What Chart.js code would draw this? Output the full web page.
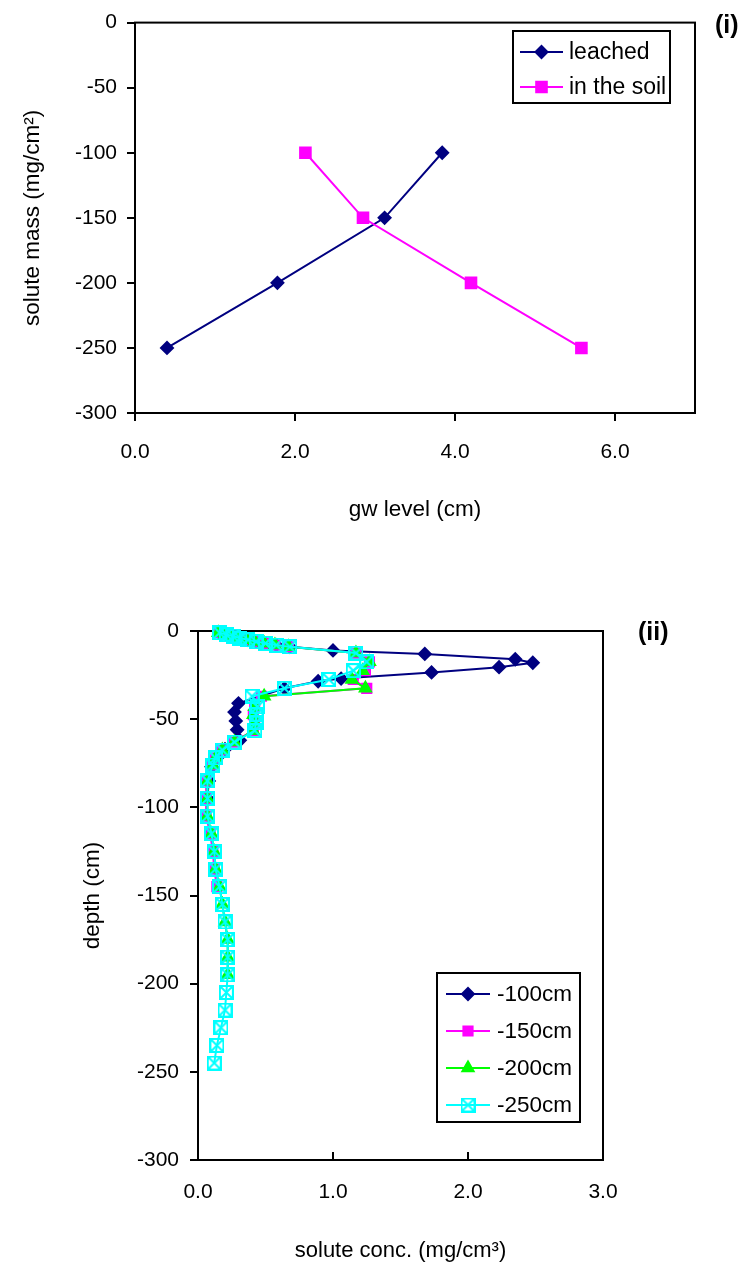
<!DOCTYPE html>
<html><head><meta charset="utf-8">
<script src="https://cdn.jsdelivr.net/npm/chart.js@4/dist/chart.umd.min.js"></script>
<style>
html,body{margin:0;padding:0;background:#fff;}
body{width:743px;height:1266px;position:relative;overflow:hidden;font-family:'Liberation Sans',Arial,sans-serif;}
.wrap{position:absolute;left:0;width:743px;}
#w1{top:0;height:545px;}
#w2{top:560px;height:706px;}
.tag{position:absolute;font-weight:bold;font-size:25px;color:#000;line-height:1;}
</style></head><body>
<div class="wrap" id="w1"><canvas id="c1" width="743" height="545"></canvas></div>
<div class="wrap" id="w2"><canvas id="c2" width="743" height="706"></canvas></div>
<div class="tag" style="left:715px;top:12px;">(i)</div>
<div class="tag" style="left:638px;top:619px;">(ii)</div>
<script>
// ---------- chart (i) data ----------
const massLeached = [-250, -200, -150, -100];
const gwLeached   = [0.40, 1.78, 3.12, 3.84];
const massSoil    = [-100, -150, -200, -250];
const gwSoil      = [2.13, 2.85, 4.20, 5.58];
const seriesNames1 = ['leached', 'in the soil'];

// ---------- chart (ii) data ----------
const seriesNames2 = ['-100cm', '-150cm', '-200cm', '-250cm'];
const depth100 = [-1,-2,-3,-4,-5,-6,-7,-8,-9,-11,-13,-16,-18,-20.5,-23.5,-27,-28.5,-32.5,-41,-46,-51,-56,-62,-67,-72,-77,-85,-95];
const conc100  = [0.16,0.21,0.26,0.31,0.37,0.43,0.50,0.58,0.68,1.00,1.68,2.35,2.48,2.23,1.73,1.06,0.89,0.64,0.30,0.27,0.28,0.29,0.31,0.20,0.14,0.10,0.08,0.07];

const depth150 = [-1,-2,-3,-4,-5,-6,-7,-8,-9,-12.5,-17.5,-22.5,-27.5,-32.5,-37,-43,-47.5,-52,-56.5,-63,-67.5,-72,-76,-85,-95,-105,-115,-125,-135,-145];
const conc150  = [0.15,0.20,0.25,0.30,0.36,0.42,0.49,0.57,0.67,1.17,1.27,1.24,1.15,1.25,0.47,0.42,0.41,0.42,0.41,0.26,0.17,0.12,0.10,0.06,0.06,0.06,0.09,0.11,0.12,0.14];

const depth200 = [-1,-2,-3,-4,-5,-6,-7,-8,-9,-12.5,-17.5,-22.5,-27.5,-32.5,-37,-43,-47.5,-52,-56.5,-63,-67.5,-72,-76,-85,-95,-105,-115,-125,-135,-145,-155,-165,-175,-185,-195];
const conc200  = [0.15,0.20,0.25,0.30,0.36,0.42,0.49,0.57,0.67,1.17,1.27,1.22,1.14,1.24,0.49,0.42,0.41,0.42,0.41,0.27,0.18,0.13,0.11,0.07,0.07,0.07,0.10,0.12,0.13,0.16,0.18,0.20,0.22,0.22,0.22];

const depth250 = [-1,-2,-3,-4,-5,-6,-7,-8,-9,-12.5,-17.5,-22.5,-27.5,-32.5,-37,-43,-47.5,-52,-56.5,-63,-67.5,-72,-76,-85,-95,-105,-115,-125,-135,-145,-155,-165,-175,-185,-195,-205,-215,-225,-235,-245];
const conc250  = [0.16,0.21,0.26,0.31,0.37,0.43,0.50,0.58,0.68,1.17,1.25,1.15,0.97,0.64,0.40,0.44,0.43,0.43,0.42,0.27,0.18,0.13,0.11,0.07,0.07,0.07,0.10,0.12,0.13,0.16,0.18,0.20,0.22,0.22,0.22,0.21,0.20,0.17,0.14,0.12];

// ---------- helpers ----------
const FONT = "'Liberation Sans', Arial, sans-serif";
const pts = (xs, ys) => xs.map((x, i) => ({x: x, y: ys[i]}));

function boxX(color, size) {
  const c = document.createElement('canvas');
  c.width = size; c.height = size;
  const g = c.getContext('2d');
  g.strokeStyle = color; g.lineWidth = 2;
  g.strokeRect(1, 1, size - 2, size - 2);
  g.beginPath();
  g.moveTo(2, 2); g.lineTo(size - 2, size - 2);
  g.moveTo(size - 2, 2); g.lineTo(2, size - 2);
  g.stroke();
  return c;
}
const cyanMark = boxX('#00FFFF', 15);

const framePlugin = {
  id: 'frame',
  beforeDatasetsDraw(chart) {
    const a = chart.chartArea, ctx = chart.ctx;
    ctx.save();
    ctx.strokeStyle = '#000'; ctx.lineWidth = 2;
    ctx.strokeRect(a.left, a.top, a.right - a.left, a.bottom - a.top);
    const o = chart.options.plugins.frame || {};
    if (o.innerX) {
      const s = chart.scales.x;
      ctx.beginPath();
      s.ticks.forEach(t => {
        const px = s.getPixelForValue(t.value);
        ctx.moveTo(px, a.bottom); ctx.lineTo(px, a.bottom - 8);
      });
      ctx.stroke();
    }
    ctx.restore();
  }
};

const legendPlugin = {
  id: 'boxLegend',
  afterDraw(chart) {
    const o = chart.options.plugins.boxLegend;
    if (!o) return;
    const ctx = chart.ctx;
    ctx.save();
    ctx.fillStyle = '#fff';
    ctx.fillRect(o.x, o.y, o.w, o.h);
    ctx.strokeStyle = '#000'; ctx.lineWidth = 2;
    ctx.strokeRect(o.x, o.y, o.w, o.h);
    ctx.font = o.fontSize + 'px ' + FONT;
    ctx.textBaseline = 'middle'; ctx.textAlign = 'left';
    chart.data.datasets.forEach((d, i) => {
      const y = o.y0 + i * o.dy;
      ctx.strokeStyle = d.borderColor; ctx.lineWidth = d.borderWidth;
      ctx.beginPath(); ctx.moveTo(o.lx0, y); ctx.lineTo(o.lx1, y); ctx.stroke();
      ctx.fillStyle = d.pointBackgroundColor; ctx.strokeStyle = d.pointBorderColor;
      Chart.helpers.drawPoint(ctx, {pointStyle: d.pointStyle, radius: d.pointRadius, rotation: 0, borderWidth: 1}, (o.lx0 + o.lx1) / 2, y);
      ctx.fillStyle = '#000';
      ctx.fillText(d.label, o.tx, y + 1);
    });
    ctx.restore();
  }
};

function axisCommon(size) {
  return {font: {family: FONT, size: size}, color: '#000'};
}

// ---------- chart (i) ----------
const H1 = 545;
new Chart(document.getElementById('c1'), {
  type: 'scatter',
  data: {
    datasets: [
      {label: seriesNames1[0], data: pts(gwLeached, massLeached), showLine: true, borderColor: '#000080', borderWidth: 2,
       pointStyle: 'rectRot', pointRadius: 6, pointBackgroundColor: '#000080', pointBorderColor: '#000080', order: 1, clip: false},
      {label: seriesNames1[1], data: pts(gwSoil, massSoil), showLine: true, borderColor: '#FF00FF', borderWidth: 2,
       pointStyle: 'rect', pointRadius: 7.5, pointBackgroundColor: '#FF00FF', pointBorderColor: '#FF00FF', order: 0, clip: false}
    ]
  },
  options: {
    responsive: false, animation: false, devicePixelRatio: 1,
    layout: {padding: {top: 17, right: 48, left: 0, bottom: 0}},
    plugins: {
      legend: {display: false}, tooltip: {enabled: false},
      boxLegend: {x: 513, y: 31, w: 157, h: 72, y0: 52, dy: 35, lx0: 520, lx1: 563, tx: 569, fontSize: 23}
    },
    scales: {
      x: {
        type: 'linear', min: 0, max: 7,
        afterFit(s) { s.height = H1 - 413; },
        ticks: {stepSize: 2, includeBounds: false, callback: v => v.toFixed(1), ...axisCommon(21), padding: 19, maxRotation: 0},
        grid: {drawOnChartArea: false, drawTicks: true, tickLength: 8, color: '#000', lineWidth: 2},
        border: {display: false},
        title: {display: true, text: 'gw level (cm)', ...axisCommon(22.5), padding: {top: 0, bottom: 22}}
      },
      y: {
        type: 'linear', min: -300, max: 0,
        afterFit(s) { s.width = 135; },
        ticks: {stepSize: 50, ...axisCommon(21), padding: 10},
        grid: {drawOnChartArea: false, drawTicks: true, tickLength: 8, color: '#000', lineWidth: 2},
        border: {display: false},
        title: {display: true, text: 'solute mass (mg/cm²)', ...axisCommon(22.5), padding: {top: 19, bottom: 0}}
      }
    }
  },
  plugins: [framePlugin, legendPlugin]
});

// ---------- chart (ii) ----------
const H2 = 706;
new Chart(document.getElementById('c2'), {
  type: 'scatter',
  data: {
    datasets: [
      {label: seriesNames2[0], data: pts(conc100, depth100), showLine: true, borderColor: '#000080', borderWidth: 2,
       pointStyle: 'rectRot', pointRadius: 6, pointBackgroundColor: '#000080', pointBorderColor: '#000080', order: 3, clip: false},
      {label: seriesNames2[1], data: pts(conc150, depth150), showLine: true, borderColor: '#FF00FF', borderWidth: 2,
       pointStyle: 'rect', pointRadius: 6.5, pointBackgroundColor: '#FF00FF', pointBorderColor: '#FF00FF', order: 2, clip: false},
      {label: seriesNames2[2], data: pts(conc200, depth200), showLine: true, borderColor: '#00FF00', borderWidth: 2,
       pointStyle: 'triangle', pointRadius: 6.5, pointBackgroundColor: '#00FF00', pointBorderColor: '#00FF00', order: 1, clip: false},
      {label: seriesNames2[3], data: pts(conc250, depth250), showLine: true, borderColor: '#00FFFF', borderWidth: 2,
       pointStyle: cyanMark, pointRadius: 7, pointBackgroundColor: '#00FFFF', pointBorderColor: '#00FFFF', order: 0, clip: false}
    ]
  },
  options: {
    responsive: false, animation: false, devicePixelRatio: 1,
    layout: {padding: {top: 71, right: 140, left: 0, bottom: 0}},
    plugins: {
      legend: {display: false}, tooltip: {enabled: false},
      frame: {innerX: true},
      boxLegend: {x: 437, y: 413, w: 143, h: 149, y0: 434, dy: 37, lx0: 446, lx1: 490, tx: 497, fontSize: 22.5}
    },
    scales: {
      x: {
        type: 'linear', min: 0, max: 3,
        afterFit(s) { s.height = H2 - 600; },
        ticks: {stepSize: 1, includeBounds: false, callback: v => v.toFixed(1), ...axisCommon(21), padding: 20, maxRotation: 0},
        grid: {drawOnChartArea: false, drawTicks: false, color: '#000', lineWidth: 2},
        border: {display: false},
        title: {display: true, text: 'solute conc. (mg/cm³)', ...axisCommon(22), padding: {top: 0, bottom: 2}}
      },
      y: {
        type: 'linear', min: -300, max: 0,
        afterFit(s) { s.width = 198; },
        ticks: {stepSize: 50, ...axisCommon(21), padding: 11},
        grid: {drawOnChartArea: false, drawTicks: true, tickLength: 8, color: '#000', lineWidth: 2},
        border: {display: false},
        title: {display: true, text: 'depth (cm)', ...axisCommon(22.5), padding: {top: 79, bottom: 0}}
      }
    }
  },
  plugins: [framePlugin, legendPlugin]
});
</script>
</body></html>
